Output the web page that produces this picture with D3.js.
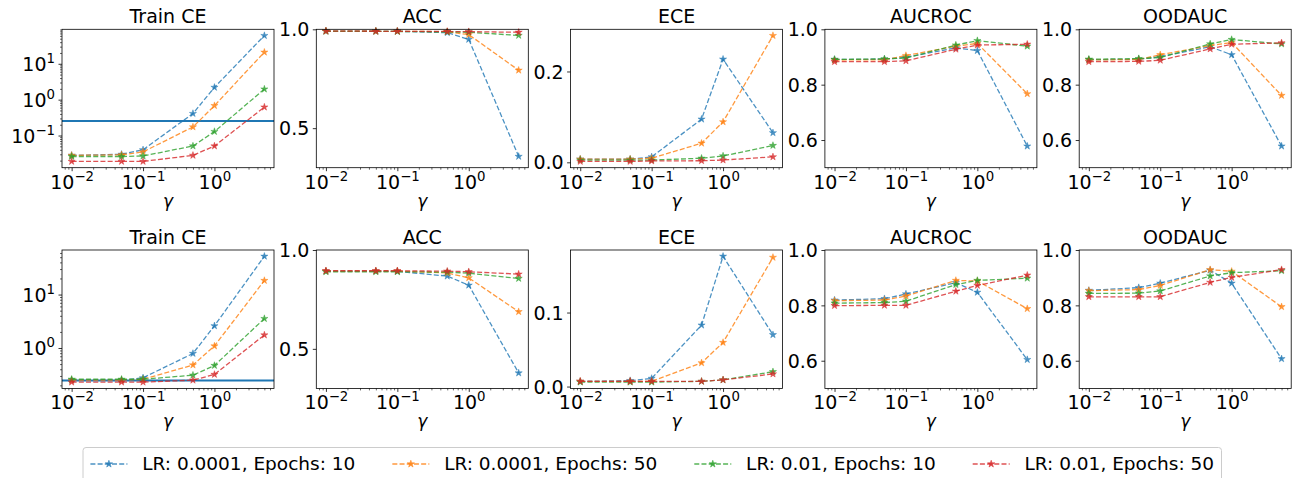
<!DOCTYPE html>
<html>
<head>
<meta charset="utf-8">
<script src="https://cdn.jsdelivr.net/npm/d3@7"></script>
<style>
  body { margin: 0; background: #fff; }
  svg { display: block; font-family: "DejaVu Sans", sans-serif; }
</style>
</head>
<body>
<svg id="chart" width="1292" height="478"></svg>
<script>
// gamma values on the x axis (log scale)
const gammas = [0.01, 0.05, 0.1, 0.5, 1, 5];

const seriesNames = [
  'LR: 0.0001, Epochs: 10',
  'LR: 0.0001, Epochs: 50',
  'LR: 0.01, Epochs: 10',
  'LR: 0.01, Epochs: 50'
];
const colors = ['#1f77b4', '#ff7f0e', '#2ca02c', '#d62728'];

// ---- top row ----
const trainCeTop = [
  [0.028, 0.030, 0.040, 0.41, 2.2, 61],
  [0.028, 0.029, 0.035, 0.173, 0.68, 21],
  [0.026, 0.026, 0.027, 0.051, 0.129, 1.97],
  [0.019, 0.019, 0.019, 0.028, 0.051, 0.62]
];
const ceBaselineTop = 0.255;
const accTop = [
  [0.991, 0.990, 0.990, 0.983, 0.949, 0.357],
  [0.991, 0.990, 0.990, 0.988, 0.973, 0.793],
  [0.990, 0.990, 0.989, 0.987, 0.985, 0.969],
  [0.991, 0.990, 0.990, 0.989, 0.988, 0.985]
];
const eceTop = [
  [0.007, 0.007, 0.012, 0.095, 0.227, 0.065],
  [0.007, 0.007, 0.009, 0.042, 0.089, 0.279],
  [0.005, 0.005, 0.005, 0.009, 0.014, 0.037],
  [0.002, 0.002, 0.003, 0.0035, 0.005, 0.012]
];
const aucrocTop = [
  [0.891, 0.892, 0.899, 0.933, 0.923, 0.578],
  [0.889, 0.890, 0.905, 0.939, 0.949, 0.767],
  [0.891, 0.893, 0.896, 0.943, 0.959, 0.939],
  [0.883, 0.883, 0.886, 0.928, 0.943, 0.946]
];
const oodaucTop = [
  [0.890, 0.892, 0.901, 0.937, 0.908, 0.578],
  [0.889, 0.891, 0.908, 0.941, 0.952, 0.761],
  [0.892, 0.894, 0.898, 0.947, 0.963, 0.947],
  [0.883, 0.884, 0.888, 0.929, 0.946, 0.951]
];

// ---- bottom row ----
const trainCeBot = [
  [0.25, 0.25, 0.277, 0.79, 2.6, 52],
  [0.25, 0.25, 0.26, 0.48, 1.09, 18.3],
  [0.26, 0.26, 0.26, 0.31, 0.47, 3.55],
  [0.23, 0.23, 0.23, 0.25, 0.32, 1.75]
];
const ceBaselineBot = 0.247;
const accBot = [
  [0.893, 0.893, 0.892, 0.868, 0.822, 0.378],
  [0.893, 0.893, 0.893, 0.884, 0.859, 0.688],
  [0.890, 0.890, 0.890, 0.888, 0.883, 0.856],
  [0.895, 0.895, 0.895, 0.893, 0.890, 0.878]
];
const eceBot = [
  [0.007, 0.008, 0.011, 0.083, 0.176, 0.070],
  [0.007, 0.007, 0.007, 0.032, 0.0595, 0.1745],
  [0.006, 0.006, 0.006, 0.007, 0.009, 0.020],
  [0.007, 0.007, 0.007, 0.007, 0.009, 0.017]
];
const aucrocBot = [
  [0.819, 0.824, 0.841, 0.882, 0.847, 0.604],
  [0.817, 0.819, 0.834, 0.890, 0.888, 0.788],
  [0.808, 0.810, 0.815, 0.875, 0.890, 0.898],
  [0.799, 0.800, 0.800, 0.851, 0.872, 0.909]
];
const oodaucBot = [
  [0.854, 0.864, 0.880, 0.927, 0.880, 0.607],
  [0.853, 0.857, 0.872, 0.929, 0.923, 0.795],
  [0.843, 0.844, 0.852, 0.906, 0.918, 0.925],
  [0.831, 0.831, 0.831, 0.883, 0.901, 0.929]
];

// tick labels / fixed limits
const xTicks = [0.01, 0.1, 1];
const ceTicksTop = [0.1, 1, 10];
const ceTicksBot = [1, 10];
const accTicks = [0.5, 1.0];
const accLim = [0.3, 1.0];
const eceTicksTop = [0.0, 0.2];
const eceTicksBot = [0.0, 0.1];
const aucTicks = [0.6, 0.8, 1.0];
const aucLim = [0.5, 1.0];

const rows = [
  [
    { title: 'Train CE', kind: 'log', data: trainCeTop, ticks: ceTicksTop, hline: ceBaselineTop },
    { title: 'ACC', kind: 'linear', data: accTop, ticks: accTicks, lim: accLim },
    { title: 'ECE', kind: 'linear', data: eceTop, ticks: eceTicksTop },
    { title: 'AUCROC', kind: 'linear', data: aucrocTop, ticks: aucTicks, lim: aucLim },
    { title: 'OODAUC', kind: 'linear', data: oodaucTop, ticks: aucTicks, lim: aucLim }
  ],
  [
    { title: 'Train CE', kind: 'log', data: trainCeBot, ticks: ceTicksBot, hline: ceBaselineBot },
    { title: 'ACC', kind: 'linear', data: accBot, ticks: accTicks, lim: accLim },
    { title: 'ECE', kind: 'linear', data: eceBot, ticks: eceTicksBot },
    { title: 'AUCROC', kind: 'linear', data: aucrocBot, ticks: aucTicks, lim: aucLim },
    { title: 'OODAUC', kind: 'linear', data: oodaucBot, ticks: aucTicks, lim: aucLim }
  ]
];

// layout
const axLeft0 = 62, axStep = 254.3, axW = 212, axH = 138.4;
const rowTops = [29.3, 250];
const fs = 19;

const svg = d3.select('#chart');

const isPow10 = v => Math.abs(Math.log10(v) - Math.round(Math.log10(v))) < 1e-9;

function sciLabel(el, v) {
  const e = Math.round(Math.log10(v));
  const t = d3.select(el);
  t.text(null);
  t.append('tspan').text('10');
  t.append('tspan').attr('font-size', fs * 0.7).attr('dy', -8)
    .text(e < 0 ? '\u2212' + (-e) : String(e));
}

// log x domain with matplotlib-like 5% margins
const lx0 = Math.log10(d3.min(gammas)), lx1 = Math.log10(d3.max(gammas));
const mx = (lx1 - lx0) * 0.05;

rows.forEach((row, r) => {
  row.forEach((p, c) => {
    const g = svg.append('g')
      .attr('transform', `translate(${axLeft0 + c * axStep},${rowTops[r]})`);

    const x = d3.scaleLog()
      .domain([Math.pow(10, lx0 - mx), Math.pow(10, lx1 + mx)])
      .range([0, axW]);

    const all = p.data.flat();
    let y;
    if (p.kind === 'log') {
      const a = Math.log10(d3.min(all)), b = Math.log10(d3.max(all));
      const m = (b - a) * 0.05;
      y = d3.scaleLog().domain([Math.pow(10, a - m), Math.pow(10, b + m)]).range([axH, 0]);
    } else if (p.lim) {
      y = d3.scaleLinear().domain(p.lim).range([axH, 0]);
    } else {
      const a = d3.min(all), b = d3.max(all), m = (b - a) * 0.05;
      y = d3.scaleLinear().domain([a - m, b + m]).range([axH, 0]);
    }

    const clipId = `clip-${r}-${c}`;
    g.append('clipPath').attr('id', clipId)
      .append('rect').attr('width', axW).attr('height', axH);

    // x axis: minor then major ticks
    const xMinor = x.ticks().filter(v => !isPow10(v));
    g.append('g').attr('transform', `translate(0,${axH})`)
      .call(d3.axisBottom(x).tickValues(xMinor).tickSizeInner(2).tickSizeOuter(0).tickFormat(''))
      .call(s => s.select('.domain').remove())
      .call(s => s.selectAll('line').attr('stroke-width', 0.6));

    g.append('g').attr('transform', `translate(0,${axH})`)
      .call(d3.axisBottom(x).tickValues(xTicks).tickSizeInner(3.5).tickSizeOuter(0).tickFormat(''))
      .call(s => s.select('.domain').remove())
      .call(s => s.selectAll('line').attr('stroke-width', 0.8))
      .call(s => s.selectAll('.tick text')
        .attr('y', 21).attr('dy', null)
        .attr('font-size', fs).attr('font-family', 'DejaVu Sans').attr('fill', '#000')
        .each(function (d) { sciLabel(this, d); }));

    // y axis
    if (p.kind === 'log') {
      const yMinor = y.ticks().filter(v => !isPow10(v));
      g.append('g')
        .call(d3.axisLeft(y).tickValues(yMinor).tickSizeInner(2).tickSizeOuter(0).tickFormat(''))
        .call(s => s.select('.domain').remove())
        .call(s => s.selectAll('line').attr('stroke-width', 0.6));
    }
    g.append('g')
      .call(d3.axisLeft(y).tickValues(p.ticks).tickSizeInner(3.5).tickSizeOuter(0).tickPadding(3.5)
        .tickFormat(p.kind === 'log' ? () => '' : d3.format('.1f')))
      .call(s => s.select('.domain').remove())
      .call(s => s.selectAll('line').attr('stroke-width', 0.8))
      .call(s => s.selectAll('.tick text')
        .attr('dy', '0.35em')
        .attr('font-size', fs).attr('font-family', 'DejaVu Sans').attr('fill', '#000')
        .each(function (d) { if (p.kind === 'log') sciLabel(this, d); }));

    // reference line
    if (p.hline != null) {
      g.append('line')
        .attr('x1', 0).attr('x2', axW)
        .attr('y1', y(p.hline)).attr('y2', y(p.hline))
        .attr('stroke', colors[0]).attr('stroke-width', 2);
    }

    // series
    const line = d3.line().x(d => x(d[0])).y(d => y(d[1]));
    p.data.forEach((vals, i) => {
      const pts = gammas.map((gm, k) => [gm, vals[k]]);
      g.append('path')
        .attr('clip-path', `url(#${clipId})`)
        .attr('d', line(pts))
        .attr('fill', 'none')
        .attr('stroke', colors[i])
        .attr('stroke-opacity', 0.8)
        .attr('stroke-width', 1.3)
        .attr('stroke-dasharray', '5,2.2');
      g.append('g').selectAll('path')
        .data(pts)
        .join('path')
        .attr('transform', d => `translate(${x(d[0])},${y(d[1])})`)
        .attr('d', d3.symbol(d3.symbolStar, 16))
        .attr('fill', colors[i])
        .attr('fill-opacity', 0.8)
        .attr('stroke', colors[i])
        .attr('stroke-opacity', 0.8)
        .attr('stroke-width', 0.5);
    });

    // frame
    g.append('rect')
      .attr('width', axW).attr('height', axH)
      .attr('fill', 'none').attr('stroke', '#000').attr('stroke-width', 0.8);

    // title and x label
    g.append('text')
      .attr('x', axW / 2).attr('y', -6)
      .attr('text-anchor', 'middle').attr('font-size', fs)
      .text(p.title);
    g.append('text')
      .attr('x', axW / 2).attr('y', axH + 39)
      .attr('text-anchor', 'middle').attr('font-size', 17)
      .attr('font-style', 'italic')
      .text('\u03b3');
  });
});

// legend
const lfs = 18.5;
const legend = svg.append('g');
const ly = 464;
let cursor = 90.4;
seriesNames.forEach((name, i) => {
  legend.append('line')
    .attr('x1', cursor).attr('x2', cursor + 2 * lfs)
    .attr('y1', ly).attr('y2', ly)
    .attr('stroke', colors[i]).attr('stroke-opacity', 0.8)
    .attr('stroke-width', 1.3).attr('stroke-dasharray', '5,2.2');
  legend.append('path')
    .attr('transform', `translate(${cursor + lfs},${ly})`)
    .attr('d', d3.symbol(d3.symbolStar, 16))
    .attr('fill', colors[i]).attr('fill-opacity', 0.8)
    .attr('stroke', colors[i]).attr('stroke-width', 0.5);
  const tx = cursor + 2 * lfs + 0.8 * lfs;
  const t = legend.append('text')
    .attr('x', tx).attr('y', ly).attr('dy', '0.35em')
    .attr('font-size', lfs)
    .text(name);
  const w = t.node().getComputedTextLength();
  cursor = tx + w + 2 * lfs;
});
const legendRight = cursor - 2 * lfs + 0.4 * lfs;
legend.insert('rect', ':first-child')
  .attr('x', 83).attr('y', 447.5)
  .attr('width', legendRight - 83).attr('height', 37)
  .attr('rx', 3)
  .attr('fill', '#fff').attr('fill-opacity', 0.8)
  .attr('stroke', '#cccccc').attr('stroke-width', 1);
</script>
</body>
</html>
